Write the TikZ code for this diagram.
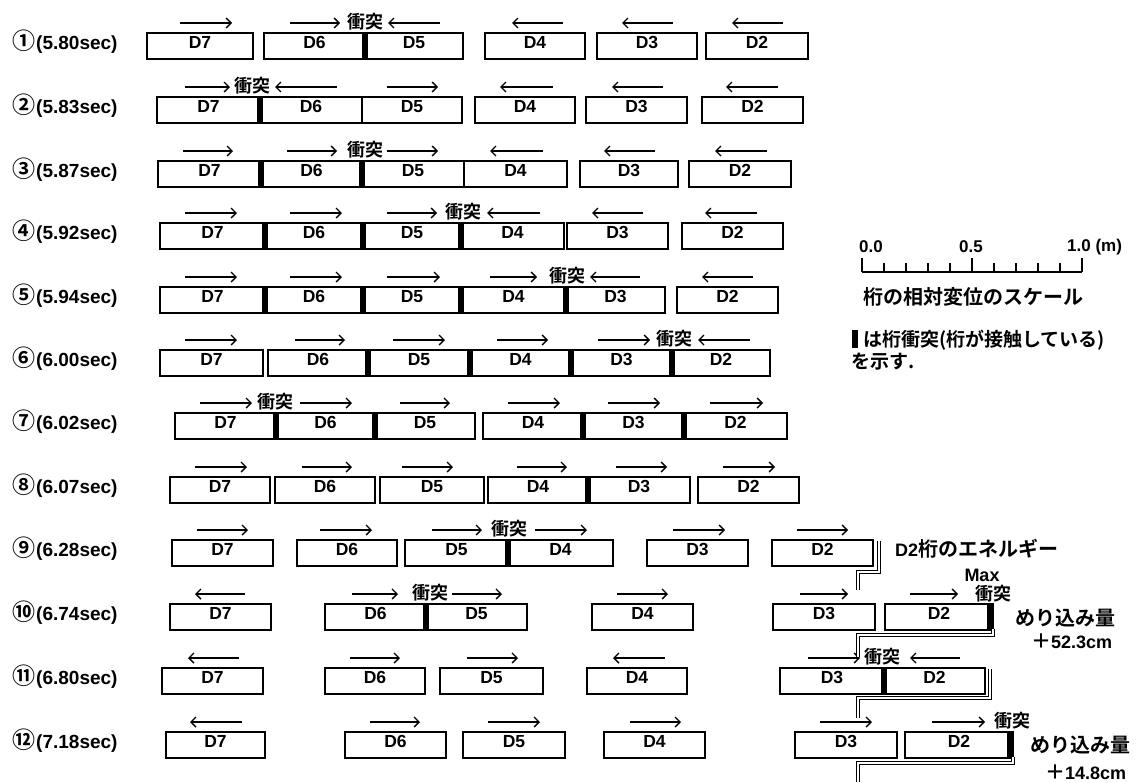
\documentclass[tikz,border=0pt]{standalone}
\usepackage{fontspec}
\setmainfont{Liberation Sans}
\newfontfamily\jp{Noto Sans CJK JP}[BoldFont={* Bold}]
\usetikzlibrary{arrows.meta,calc}
\tikzset{
  dbox/.style={draw, line width=1.3pt, rectangle, inner sep=0pt, outer sep=0pt,
    text height=15pt, text depth=11pt, minimum height=26pt,
    font=\fontsize{17.5}{17.5}\selectfont\bfseries},
  cbar/.style={fill=black, inner sep=0pt, outer sep=0pt, minimum width=6pt, minimum height=27.3pt},
  arr/.style={line width=1.4pt, -{Straight Barb[length=5pt,width=10pt]}},
  ct/.style={font=\fontsize{18}{18}\selectfont\jp\bfseries, inner sep=0pt},
  rl/.style={anchor=west, inner sep=0pt, font=\fontsize{19}{19}\selectfont\bfseries},
  eline/.style={line width=0.9pt, double, double distance=2.2pt},
  lat/.style={inner sep=0pt, font=\fontsize{17}{17}\selectfont\bfseries},
  jtx/.style={inner sep=0pt, font=\fontsize{20}{20}\selectfont\jp\bfseries},
}
\newcommand\mybx[5]{\node[dbox,minimum width={(#3)-(#2)}] (#1) at ({((#2)+(#3))/2},{(#4)+13}) {#5};}
\newcommand\mycb[3]{\node[cbar] (#1) at ({#2},{(#3)+13}) {};}
\newcommand\myra[3]{\draw[arr] ({#1},{(#3)-10}) -- ({#2},{(#3)-10});}
\newcommand\myla[3]{\draw[arr] ({#2},{(#3)-10}) -- ({#1},{(#3)-10});}
\newcommand\myct[3]{\node[ct] (#1) at ({#2},{(#3)-11}) {衝突};}
\newcommand\cn[1]{{\fontsize{23}{23}\selectfont\jp #1}\hspace{1pt}}
\begin{document}
\begin{tikzpicture}[x=1pt,y=-1pt]
\useasboundingbox[fill=white] (0,0) rectangle (1138,782);
% ---------------- row labels
\node[rl] (l1) at (12,42) {\cn{①}(5.80sec)};
\node[rl] (l2) at (12,106) {\cn{②}(5.83sec)};
\node[rl] (l3) at (12,170) {\cn{③}(5.87sec)};
\node[rl] (l4) at (12,232) {\cn{④}(5.92sec)};
\node[rl] (l5) at (12,296) {\cn{⑤}(5.94sec)};
\node[rl] (l6) at (12,359) {\cn{⑥}(6.00sec)};
\node[rl] (l7) at (12,422) {\cn{⑦}(6.02sec)};
\node[rl] (l8) at (12,486) {\cn{⑧}(6.07sec)};
\node[rl] (l9) at (12,549) {\cn{⑨}(6.28sec)};
\node[rl] (l10) at (12,613) {\cn{⑩}(6.74sec)};
\node[rl] (l11) at (12,677) {\cn{⑪}(6.80sec)};
\node[rl] (l12) at (12,741) {\cn{⑫}(7.18sec)};
% ---------------- row 1
\mybx{a7}{147}{253}{33}{D7}\mybx{a6}{264}{365}{33}{D6}\mybx{a5}{365}{463}{33}{D5}
\mybx{a4}{485}{585}{33}{D4}\mybx{a3}{597}{697}{33}{D3}\mybx{a2}{706}{808}{33}{D2}
\mycb{ab1}{365}{33}
\myra{180}{232}{33}\myra{290}{340}{33}\myct{ac}{365}{33}\myla{388}{440}{33}
\myla{512}{563}{33}\myla{622}{673}{33}\myla{732}{783}{33}
% ---------------- row 2
\mybx{b7}{157}{260}{97}{D7}\mybx{b6}{260}{362}{97}{D6}\mybx{b5}{362}{462}{97}{D5}
\mybx{b4}{475}{575}{97}{D4}\mybx{b3}{586}{687}{97}{D3}\mybx{b2}{702}{803}{97}{D2}
\mycb{bb1}{260}{97}
\myra{185}{230}{97}\myct{bc}{252}{97}\myla{275}{337}{97}\myra{387}{438}{97}
\myla{500}{553}{97}\myla{612}{663}{97}\myla{726}{778}{97}
% ---------------- row 3
\mybx{c7}{158}{261}{161}{D7}\mybx{c6}{261}{362}{161}{D6}\mybx{c5}{362}{464}{161}{D5}
\mybx{c4}{464}{567}{161}{D4}\mybx{c3}{580}{678}{161}{D3}\mybx{c2}{689}{791}{161}{D2}
\mycb{cb1}{261}{161}\mycb{cb2}{362}{161}
\myra{183}{233}{161}\myra{287}{337}{161}\myct{cc}{365}{161}\myra{387}{438}{161}
\myla{490}{543}{161}\myla{604}{655}{161}\myla{715}{767}{161}
% ---------------- row 4
\mybx{d7}{160}{265}{223}{D7}\mybx{d6}{265}{363}{223}{D6}\mybx{d5}{363}{461}{223}{D5}
\mybx{d4}{461}{564}{223}{D4}\mybx{d3}{567}{668}{223}{D3}\mybx{d2}{682}{783}{223}{D2}
\mycb{db1}{265}{223}\mycb{db2}{363}{223}\mycb{db3}{461}{223}
\myra{185}{237}{223}\myra{290}{342}{223}\myra{387}{437}{223}\myct{dc}{463}{223}
\myla{487}{540}{223}\myla{592}{643}{223}\myla{705}{757}{223}
% ---------------- row 5
\mybx{e7}{160}{265}{287}{D7}\mybx{e6}{265}{363}{287}{D6}\mybx{e5}{363}{461}{287}{D5}
\mybx{e4}{461}{566}{287}{D4}\mybx{e3}{566}{665}{287}{D3}\mybx{e2}{677}{778}{287}{D2}
\mycb{eb1}{265}{287}\mycb{eb2}{363}{287}\mycb{eb3}{461}{287}\mycb{eb4}{566}{287}
\myra{185}{237}{287}\myra{290}{342}{287}\myra{387}{440}{287}\myra{490}{537}{287}
\myct{ec}{567}{287}\myla{590}{640}{287}\myla{702}{753}{287}
% ---------------- row 6
\mybx{f7}{160}{263}{350}{D7}\mybx{f6}{268}{368}{350}{D6}\mybx{f5}{368}{470}{350}{D5}
\mybx{f4}{470}{571}{350}{D4}\mybx{f3}{571}{672}{350}{D3}\mybx{f2}{672}{770}{350}{D2}
\mycb{fb1}{368}{350}\mycb{fb2}{470}{350}\mycb{fb3}{571}{350}\mycb{fb4}{672}{350}
\myra{185}{237}{350}\myra{295}{345}{350}\myra{393}{445}{350}\myra{497}{548}{350}
\myra{598}{650}{350}\myct{fc}{674}{350}\myla{698}{750}{350}
% ---------------- row 7
\mybx{g7}{175}{276}{413}{D7}\mybx{g6}{276}{375}{413}{D6}\mybx{g5}{375}{475}{413}{D5}
\mybx{g4}{483}{583}{413}{D4}\mybx{g3}{583}{684}{413}{D3}\mybx{g2}{684}{787}{413}{D2}
\mycb{gb1}{276}{413}\mycb{gb2}{375}{413}\mycb{gb3}{583}{413}\mycb{gb4}{684}{413}
\myra{200}{252}{413}\myct{gc}{275}{413}\myra{300}{352}{413}\myra{400}{450}{413}
\myra{508}{560}{413}\myra{608}{660}{413}\myra{710}{763}{413}
% ---------------- row 8
\mybx{h7}{170}{270}{477}{D7}\mybx{h6}{275}{375}{477}{D6}\mybx{h5}{380}{484}{477}{D5}
\mybx{h4}{488}{588}{477}{D4}\mybx{h3}{588}{690}{477}{D3}\mybx{h2}{698}{799}{477}{D2}
\mycb{hb1}{588}{477}
\myra{195}{247}{477}\myra{302}{352}{477}\myra{402}{453}{477}\myra{517}{567}{477}
\myra{616}{667}{477}\myra{723}{775}{477}
% ---------------- row 9
\mybx{i7}{172}{273}{540}{D7}\mybx{i6}{297}{397}{540}{D6}\mybx{i5}{405}{508}{540}{D5}
\mybx{i4}{508}{613}{540}{D4}\mybx{i3}{647}{748}{540}{D3}\mybx{i2}{772}{873}{540}{D2}
\mycb{ib1}{508}{540}
\myra{197}{248}{540}\myra{320}{372}{540}\myra{432}{482}{540}\myct{ic}{509}{540}
\myra{535}{587}{540}\myra{673}{725}{540}\myra{797}{848}{540}
\node[anchor=west,inner sep=0pt] (en) at (895,549) {{\fontsize{18}{18}\selectfont\bfseries D2}{\fontsize{20}{20}\selectfont\jp\bfseries 桁のエネルギー}};
% ---------------- row 10
\mybx{j7}{170}{271}{604}{D7}\mybx{j6}{325}{426}{604}{D6}\mybx{j5}{426}{527}{604}{D5}
\mybx{j4}{592}{693}{604}{D4}\mybx{j3}{773}{875}{604}{D3}\mybx{j2}{885}{993}{604}{D2}
\mycb{jb1}{426}{604}\mycb{jb2}{990}{604}
\myla{195}{245}{604}\myra{352}{398}{604}\myct{jc}{430}{604}\myra{452}{502}{604}
\myra{617}{668}{604}\myra{800}{848}{604}\myra{910}{958}{604}
\node[lat,font=\fontsize{18}{18}\selectfont\bfseries] (mx) at (982,575) {Max};
\node[ct] (jc2) at (993,594) {衝突};
\node[jtx] (m1) at (1065,618) {めり込み量};
\node[anchor=west,inner sep=0pt] (v1) at (1031,641) {{\fontsize{20}{20}\selectfont\jp\bfseries ＋}{\fontsize{18}{18}\selectfont\bfseries 52.3cm}};
% ---------------- row 11
\mybx{k7}{162}{263}{668}{D7}\mybx{k6}{325}{425}{668}{D6}\mybx{k5}{440}{543}{668}{D5}
\mybx{k4}{587}{687}{668}{D4}\mybx{k3}{780}{884}{668}{D3}\mybx{k2}{884}{985}{668}{D2}
\mycb{kb1}{884}{668}
\myla{188}{239}{668}\myra{350}{400}{668}\myra{467}{518}{668}\myla{613}{665}{668}
\myra{808}{860}{668}\myct{kc}{882}{668}\myla{910}{960}{668}
% ---------------- row 12
\mybx{l7}{166}{265}{732}{D7}\mybx{l6}{345}{446}{732}{D6}\mybx{l5}{463}{565}{732}{D5}
\mybx{l4}{604}{705}{732}{D4}\mybx{l3}{795}{897}{732}{D3}\mybx{l2}{905}{1013}{732}{D2}
\mycb{lb1}{1010}{732}
\myla{190}{242}{732}\myra{370}{420}{732}\myra{488}{540}{732}\myra{630}{681}{732}
\myra{820}{872}{732}\myra{932}{985}{732}
\node[ct] (lc) at (1012,721) {衝突};
\node[jtx] (m2) at (1080,745) {めり込み量};
\node[anchor=west,inner sep=0pt] (v2) at (1045,772) {{\fontsize{20}{20}\selectfont\jp\bfseries ＋}{\fontsize{18}{18}\selectfont\bfseries 14.8cm}};
% ---------------- energy path (double line)
\coordinate (e1) at (858,590);
\coordinate (e2) at (858,657);
\coordinate (e3) at (858,718);
\coordinate (e4) at (858,782);
\draw[eline] ($(i2.north east)+(6,1)$) -- ++(0,31) -| (e1);
\draw[eline] ($(j2.south east)+(0,-1)$) -- ++(0,6) -| (e2);
\draw[eline] ($(k2.north east)+(5,1)$) -- ++(0,29) -| (e3);
\draw[eline] ($(l2.south east)+(0,-1)$) -- ++(0,6) -| (e4);
% ---------------- legend: scale
\draw[line width=1.6pt] (862,272) -- (1082,272);
\foreach \i in {1,2,3,4,6,7,8,9} {\draw[line width=1.2pt] ({862+22*\i},272) -- ({862+22*\i},263);}
\foreach \i in {0,5,10} {\draw[line width=1.4pt] ({862+22*\i},272) -- ({862+22*\i},258);}
\node[lat] (s0) at (871,247) {0.0};
\node[lat] (s5) at (971,247) {0.5};
\node[lat,anchor=west] (s10) at (1067,247) {1.0 (m)};
\node[jtx] (sc) at (973,297) {桁の相対変位のスケール};
\node[fill=black,inner sep=0pt,minimum width=6pt,minimum height=18pt] (lsq) at (855,339) {};
\node[anchor=west,inner sep=0pt,font=\fontsize{19}{19}\selectfont\jp\bfseries] (lt1) at (863,340) {は桁衝突(桁が接触している)};
\node[anchor=west,inner sep=0pt,font=\fontsize{19}{19}\selectfont\jp\bfseries] (lt2) at (851,362) {を示す.};
\end{tikzpicture}
\end{document}
